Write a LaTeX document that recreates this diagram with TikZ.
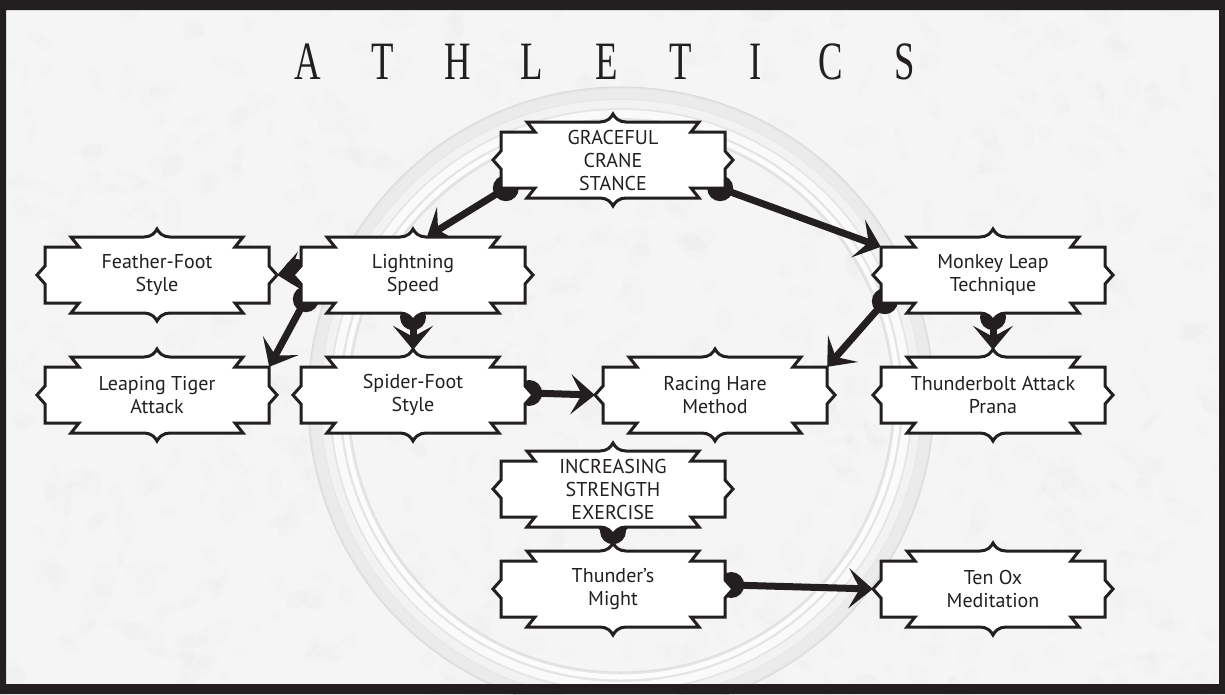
\documentclass[tikz,border=0pt]{standalone}
\usepackage{fontspec}
\setmainfont{PT Sans}
\newfontfamily\titlefont[FakeStretch=0.68]{Liberation Serif}
\usetikzlibrary{arrows.meta,calc}
\definecolor{ink}{HTML}{231F20}
\definecolor{paper}{HTML}{F5F5F5}
\pgfdeclarelayer{paperlayer}
\pgfdeclarelayer{ringlayer}
\pgfdeclarelayer{connlayer}
\pgfdeclarelayer{shapelayer}
\pgfsetlayers{paperlayer,ringlayer,connlayer,shapelayer,main}
\tikzset{
  stepnode/.style={rectangle, minimum width=224pt, minimum height=76pt,
    inner sep=0pt, align=center, text=ink,
    font=\fontsize{20}{23}\selectfont},
  stepoutline/.style={draw=ink, line width=3pt, fill=white, line join=miter},
  conn/.style={draw=ink, line width=7pt,
    -{Stealth[length=24pt,width=40pt,inset=11pt]}},
  disc/.style={fill=ink},
  titletext/.style={text=ink, inner sep=0pt, font=\titlefont\fontsize{54}{54}\selectfont}
}
\begin{document}
\begin{tikzpicture}[x=1pt,y=-1pt]
\useasboundingbox (0,0) rectangle (1225,694);

% paper with a faint plaster texture
\begin{pgfonlayer}{paperlayer}
  \fill[paper] (0,0) rectangle (1225,694);
  \pgfmathsetseed{11}
  \foreach \i in {1,...,700}{
    \pgfmathsetmacro\px{rnd*1225}
    \pgfmathsetmacro\py{rnd*694}
    \pgfmathsetmacro\rx{5+rnd*16}
    \pgfmathsetmacro\ry{3+rnd*9}
    \pgfmathsetmacro\ang{rnd*180}
    \fill[gray!45, opacity=0.035, rotate around={\ang:(\px,\py)}] (\px,\py) ellipse ({\rx} and {\ry});
  }
\end{pgfonlayer}

% the large embossed ring behind the chart
\begin{pgfonlayer}{ringlayer}
  \coordinate (ringc) at (621,400);
  \fill[gray!20, even odd rule] (ringc) circle (313) (ringc) circle (272);
  \draw[gray!16, line width=10pt] (ringc) circle (306);
  \draw[gray!10, line width=8pt] (ringc) circle (296);
  \draw[gray!4, line width=8pt] (ringc) circle (286);
  \draw[white, line width=5pt, opacity=0.9] (ringc) circle (277);
  \draw[gray!28, line width=1pt] (ringc) circle (313);
  \draw[gray!24, line width=1pt] (ringc) circle (272);
\end{pgfonlayer}

% title
\node[titletext] (title) at (606.5,62) {%
  \makebox[74.6pt]{A}\makebox[74.6pt]{T}\makebox[74.6pt]{H}%
  \makebox[74.6pt]{L}\makebox[74.6pt]{E}\makebox[74.6pt]{T}%
  \makebox[74.6pt]{I}\makebox[74.6pt]{C}\makebox[74.6pt]{S}};

% technique boxes
\node[stepnode] (gcs) at (613,160) {GRACEFUL\\CRANE\\STANCE};
\node[stepnode] (ffs) at (157,275) {Feather-Foot\\Style};
\node[stepnode] (lsp) at (413,275) {Lightning\\Speed};
\node[stepnode] (mlt) at (993,275) {Monkey Leap\\Technique};
\node[stepnode] (lta) at (157,395) {Leaping Tiger\\Attack};
\node[stepnode] (sfs) at (413,395) {Spider-Foot\\Style};
\node[stepnode] (rhm) at (715,395) {Racing Hare\\Method};
\node[stepnode] (tap) at (993,395) {Thunderbolt Attack\\Prana};
\node[stepnode] (ise) at (613,489) {INCREASING\\STRENGTH\\EXERCISE};
\node[stepnode] (tmi) at (613,589) {Thunder's\\Might};
\node[stepnode] (tom) at (993,589) {Ten Ox\\Meditation};

% notched outlines of the boxes
\begin{pgfonlayer}{shapelayer}
\foreach \n in {gcs,ffs,lsp,mlt,lta,sfs,rhm,tap,ise,tmi,tom}{
  \begin{scope}[shift={(\n.center)}]
    \path[stepoutline]
      (-13,-38) .. controls (-6,-38) and (-2,-42) .. (0,-46)
               .. controls (2,-42) and (6,-38) .. (13,-38)
      -- (86,-38) -- (78,-28) -- (112,-28) -- (112,-9) -- (120,0)
      -- (112,9) -- (112,28) -- (78,28) -- (86,38)
      -- (13,38) .. controls (6,38) and (2,42) .. (0,46)
               .. controls (-2,42) and (-6,38) .. (-13,38)
      -- (-86,38) -- (-78,28) -- (-112,28) -- (-112,9) -- (-120,0)
      -- (-112,-9) -- (-112,-28) -- (-78,-28) -- (-86,-38) -- cycle;
  \end{scope}
}
\end{pgfonlayer}

% connectors: a disc at the source, a barbed head at the target
\begin{pgfonlayer}{connlayer}
  \path ($(gcs.south west)+(5,-10)$) coordinate (c1s)
        ($(lsp.north)+(14,0)$) coordinate (c1e)
        ($(gcs.south east)+(-5,-10)$) coordinate (c2s)
        ($(mlt.north west)+(0,10)$) coordinate (c2e)
        ($(lsp.west)+(-4,-3)$) coordinate (c3s)
        ($(ffs.east)+(8,0)$) coordinate (c3e)
        ($(lsp.south west)+(5,-14)$) coordinate (c4s)
        ($(lta.north east)+(0,10)$) coordinate (c4e)
        ($(lsp.south)+(0,4)$) coordinate (c5s)
        ($(sfs.north)+(0,-7)$) coordinate (c5e)
        ($(sfs.east)+(4,-2)$) coordinate (c6s)
        ($(rhm.west)+(-8,0)$) coordinate (c6e)
        ($(mlt.south west)+(4,-12)$) coordinate (c7s)
        ($(rhm.north east)+(0,10)$) coordinate (c7e)
        ($(mlt.south)+(0,4)$) coordinate (c8s)
        ($(tap.north)+(0,-7)$) coordinate (c8e)
        ($(ise.south)+(0,4)$) coordinate (c9s)
        ($(tmi.north)+(0,-5)$) coordinate (c9e)
        ($(tmi.east)+(6,-4)$) coordinate (c10s)
        ($(tom.west)+(-8,0)$) coordinate (c10e);
  \foreach \k in {1,...,10}{
    \fill[disc] (c\k s) circle (13);
    \draw[conn] (c\k s) -- (c\k e);
  }
\end{pgfonlayer}

% black frame
\fill[ink, even odd rule] (0,0) rectangle (1225,694) (6,10) rectangle (1219,684);
\end{tikzpicture}
\end{document}
